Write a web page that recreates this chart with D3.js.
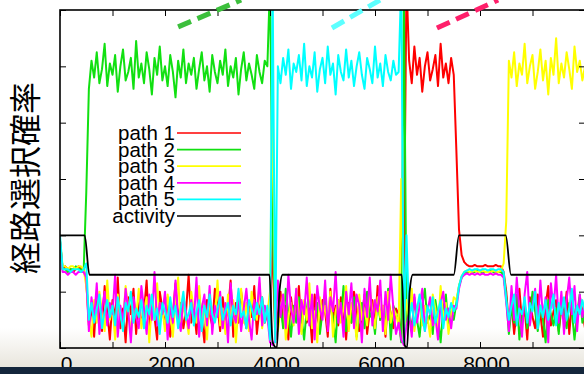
<!DOCTYPE html>
<html>
<head>
<meta charset="utf-8">
<script src="https://cdn.jsdelivr.net/npm/d3@7"></script>
<style>
  body { margin: 0; background: #fff; }
  svg { display: block; }
</style>
</head>
<body>
<svg id="chart" width="584" height="374"></svg>
<script>
// sampling step of the simulation output
var dt = 50;

// path selection probabilities, one value every dt (t = 0 .. 10000)
var path1 = [
  0.38, 0.28, 0.29, 0.28, 0.28, 0.27, 0.28, 0.29, 0.28, 0.28,
  0.24, 0.08, 0.15, 0.04, 0.19, 0.11, 0.06, 0.22, 0.13, 0.03,
  0.17, 0.10, 0.25, 0.07, 0.14, 0.02, 0.18, 0.12, 0.21, 0.05,
  0.16, 0.09, 0.13, 0.24, 0.06, 0.15, 0.11, 0.03, 0.20, 0.14,
  0.08, 0.18, 0.04, 0.12, 0.23, 0.10, 0.16, 0.07, 0.13, 0.26,
  0.09, 0.14, 0.05, 0.19, 0.11, 0.02, 0.17, 0.12, 0.08, 0.21,
  0.15, 0.06, 0.18, 0.10, 0.13, 0.24, 0.04, 0.16, 0.09, 0.20,
  0.12, 0.07, 0.15, 0.11, 0.22, 0.05, 0.14, 0.18, 0.09, 0.12,
  0.05, 0.40, 0.03, 0.12, 0.20, 0.08, 0.15, 0.03, 0.18, 0.10,
  0.13, 0.22, 0.06, 0.16, 0.09, 0.14, 0.02, 0.19, 0.11, 0.07,
  0.17, 0.13, 0.04, 0.21, 0.10, 0.15, 0.08, 0.18, 0.12, 0.03,
  0.16, 0.09, 0.20, 0.14, 0.06, 0.11, 0.19, 0.05, 0.13, 0.17,
  0.08, 0.22, 0.10, 0.15, 0.04, 0.18, 0.12, 0.07, 0.14, 0.12,
  0.03, 0.30, 1.30, 1.02, 0.94, 1.07, 0.97, 1.03, 0.91, 1.00,
  1.05, 0.95, 0.99, 1.04, 0.93, 1.08, 0.96, 1.01, 0.94, 1.03,
  0.97, 0.70, 0.42, 0.33, 0.305, 0.295, 0.29, 0.29, 0.295, 0.29,
  0.29, 0.29, 0.295, 0.29, 0.29, 0.29, 0.295, 0.29, 0.29, 0.27,
  0.20, 0.08, 0.16, 0.05, 0.13, 0.21, 0.09, 0.14, 0.03, 0.18,
  0.11, 0.07, 0.19, 0.12, 0.04, 0.15, 0.22, 0.08, 0.13, 0.17,
  0.06, 0.14, 0.10, 0.20, 0.05, 0.16, 0.12, 0.09, 0.18, 0.13,
  0.07
];
var path2 = [
  0.38, 0.28, 0.28, 0.27, 0.28, 0.28, 0.29, 0.28, 0.28, 0.27,
  0.55, 0.92, 1.02, 0.96, 1.05, 0.94, 0.99, 1.08, 0.93, 1.01,
  0.97, 1.04, 0.91, 1.00, 1.06, 0.95, 0.98, 1.03, 0.92, 1.09,
  0.96, 1.01, 0.94, 1.05, 0.99, 0.90, 1.03, 0.97, 1.07, 0.95,
  1.00, 0.93, 1.04, 0.98, 0.89, 1.02, 0.96, 1.06, 0.94, 1.01,
  0.97, 1.03, 0.92, 0.99, 1.05, 0.95, 1.00, 0.91, 1.04, 0.98,
  0.94, 1.02, 0.97, 1.06, 0.93, 1.00, 0.96, 1.03, 0.90, 0.99,
  1.05, 0.95, 1.01, 0.97, 0.92, 1.04, 0.98, 0.94, 1.02, 1.00,
  1.30, 0.45, 0.05, 0.10, 0.16, 0.07, 0.21, 0.12, 0.04, 0.15,
  0.09, 0.18, 0.11, 0.03, 0.14, 0.20, 0.07, 0.12, 0.16, 0.05,
  0.13, 0.19, 0.08, 0.15, 0.11, 0.02, 0.17, 0.10, 0.22, 0.06,
  0.14, 0.09, 0.18, 0.04, 0.12, 0.16, 0.07, 0.20, 0.11, 0.13,
  0.05, 0.17, 0.10, 0.14, 0.08, 0.21, 0.03, 0.15, 0.12, 0.10,
  0.02, 1.25, 0.08, 0.13, 0.06, 0.18, 0.10, 0.04, 0.15, 0.21,
  0.09, 0.12, 0.05, 0.17, 0.11, 0.02, 0.14, 0.19, 0.07, 0.13,
  0.10, 0.16, 0.22, 0.25, 0.265, 0.27, 0.27, 0.265, 0.27, 0.275,
  0.27, 0.265, 0.27, 0.27, 0.275, 0.27, 0.265, 0.27, 0.27, 0.26,
  0.18, 0.05, 0.14, 0.09, 0.19, 0.03, 0.12, 0.16, 0.07, 0.11,
  0.20, 0.13, 0.06, 0.15, 0.10, 0.02, 0.17, 0.12, 0.08, 0.14,
  0.05, 0.18, 0.11, 0.07, 0.16, 0.13, 0.03, 0.12, 0.19, 0.09,
  0.14
];
var path3 = [
  0.38, 0.29, 0.29, 0.28, 0.29, 0.29, 0.28, 0.29, 0.29, 0.28,
  0.22, 0.11, 0.04, 0.17, 0.09, 0.20, 0.13, 0.06, 0.24, 0.10,
  0.15, 0.03, 0.19, 0.12, 0.08, 0.22, 0.14, 0.05, 0.17, 0.11,
  0.21, 0.07, 0.13, 0.18, 0.02, 0.16, 0.10, 0.23, 0.09, 0.14,
  0.06, 0.19, 0.12, 0.04, 0.17, 0.25, 0.08, 0.15, 0.11, 0.05,
  0.20, 0.13, 0.09, 0.22, 0.07, 0.16, 0.03, 0.18, 0.12, 0.10,
  0.24, 0.08, 0.14, 0.05, 0.19, 0.11, 0.17, 0.02, 0.15, 0.21,
  0.09, 0.16, 0.06, 0.20, 0.13, 0.10, 0.23, 0.07, 0.15, 0.12,
  0.20, 0.90, 0.10, 0.06, 0.14, 0.19, 0.03, 0.11, 0.16, 0.08,
  0.21, 0.12, 0.05, 0.17, 0.10, 0.23, 0.07, 0.13, 0.02, 0.18,
  0.11, 0.15, 0.08, 0.20, 0.04, 0.13, 0.17, 0.09, 0.14, 0.22,
  0.06, 0.16, 0.12, 0.03, 0.19, 0.10, 0.14, 0.08, 0.21, 0.13,
  0.07, 0.18, 0.11, 0.15, 0.05, 0.20, 0.09, 0.14, 0.12, 0.08,
  0.60, 0.04, 0.17, 0.10, 0.21, 0.06, 0.13, 0.18, 0.08, 0.15,
  0.11, 0.04, 0.19, 0.14, 0.07, 0.22, 0.10, 0.16, 0.05, 0.12,
  0.18, 0.17, 0.22, 0.255, 0.27, 0.275, 0.27, 0.27, 0.275, 0.27,
  0.27, 0.275, 0.27, 0.27, 0.27, 0.275, 0.27, 0.27, 0.275, 0.30,
  0.45, 1.02, 0.96, 1.05, 0.93, 1.01, 0.97, 1.08, 0.94, 1.00,
  1.04, 0.92, 0.98, 1.06, 0.95, 1.02, 0.90, 1.03, 0.97, 1.10,
  0.94, 1.01, 0.96, 1.05, 0.99, 0.92, 1.07, 0.98, 1.02, 0.95,
  1.00
];
var path4 = [
  0.38, 0.27, 0.27, 0.26, 0.27, 0.27, 0.26, 0.27, 0.27, 0.27,
  0.25, 0.06, 0.18, 0.10, 0.23, 0.05, 0.14, 0.20, 0.08, 0.16,
  0.12, 0.26, 0.04, 0.15, 0.09, 0.21, 0.13, 0.02, 0.18, 0.11,
  0.07, 0.22, 0.14, 0.05, 0.19, 0.10, 0.27, 0.08, 0.16, 0.12,
  0.20, 0.03, 0.15, 0.09, 0.24, 0.11, 0.06, 0.18, 0.13, 0.07,
  0.17, 0.10, 0.25, 0.04, 0.14, 0.19, 0.08, 0.22, 0.05, 0.15,
  0.11, 0.20, 0.07, 0.16, 0.02, 0.23, 0.12, 0.09, 0.18, 0.06,
  0.14, 0.21, 0.10, 0.03, 0.17, 0.12, 0.25, 0.08, 0.15, 0.11,
  0.02, 0.01, 0.03, 0.24, 0.11, 0.19, 0.07, 0.26, 0.14, 0.09,
  0.21, 0.05, 0.17, 0.12, 0.25, 0.08, 0.19, 0.03, 0.22, 0.14,
  0.10, 0.24, 0.06, 0.18, 0.13, 0.27, 0.09, 0.16, 0.04, 0.20,
  0.12, 0.23, 0.07, 0.19, 0.15, 0.02, 0.21, 0.11, 0.25, 0.08,
  0.17, 0.13, 0.24, 0.06, 0.20, 0.10, 0.26, 0.14, 0.05, 0.09,
  0.03, 0.01, 0.08, 0.12, 0.04, 0.19, 0.09, 0.15, 0.21, 0.06,
  0.13, 0.18, 0.08, 0.11, 0.03, 0.16, 0.20, 0.10, 0.14, 0.07,
  0.15, 0.14, 0.21, 0.25, 0.26, 0.265, 0.26, 0.265, 0.26, 0.265,
  0.26, 0.265, 0.26, 0.26, 0.265, 0.26, 0.265, 0.26, 0.26, 0.25,
  0.16, 0.06, 0.22, 0.10, 0.25, 0.13, 0.04, 0.19, 0.27, 0.08,
  0.15, 0.21, 0.07, 0.24, 0.11, 0.18, 0.02, 0.23, 0.14, 0.26,
  0.09, 0.20, 0.05, 0.17, 0.25, 0.12, 0.22, 0.06, 0.19, 0.11,
  0.16
];
var path5 = [
  0.40, 0.28, 0.28, 0.28, 0.27, 0.28, 0.28, 0.28, 0.27, 0.28,
  0.30, 0.10, 0.16, 0.09, 0.14, 0.19, 0.07, 0.13, 0.17, 0.11,
  0.15, 0.08, 0.18, 0.12, 0.06, 0.16, 0.13, 0.20, 0.09, 0.14,
  0.11, 0.17, 0.07, 0.15, 0.12, 0.19, 0.10, 0.14, 0.05, 0.16,
  0.13, 0.09, 0.18, 0.11, 0.15, 0.07, 0.14, 0.20, 0.10, 0.12,
  0.16, 0.08, 0.13, 0.17, 0.06, 0.15, 0.11, 0.19, 0.12, 0.09,
  0.14, 0.18, 0.10, 0.13, 0.16, 0.08, 0.15, 0.12, 0.21, 0.11,
  0.13, 0.07, 0.17, 0.14, 0.10, 0.16, 0.12, 0.18, 0.09, 0.15,
  0.03, 1.30, 0.02, 1.00, 0.94, 1.03, 0.97, 1.06, 0.92, 1.01,
  0.98, 1.04, 0.95, 1.08, 0.93, 1.00, 0.96, 1.05, 0.91, 0.99,
  1.03, 0.94, 1.07, 0.97, 1.01, 0.90, 1.04, 0.98, 0.95, 1.06,
  0.96, 1.02, 0.93, 1.00, 1.05, 0.97, 0.92, 1.03, 0.99, 0.94,
  1.07, 0.96, 1.01, 0.93, 1.04, 0.98, 0.95, 1.02, 0.97, 0.98,
  1.30, 0.02, 0.40, 0.10, 0.16, 0.08, 0.14, 0.19, 0.11, 0.06,
  0.15, 0.12, 0.18, 0.09, 0.13, 0.17, 0.07, 0.14, 0.11, 0.16,
  0.13, 0.15, 0.22, 0.255, 0.27, 0.275, 0.28, 0.275, 0.28, 0.28,
  0.275, 0.28, 0.28, 0.275, 0.28, 0.28, 0.275, 0.28, 0.28, 0.27,
  0.17, 0.10, 0.15, 0.19, 0.08, 0.14, 0.12, 0.18, 0.09, 0.16,
  0.13, 0.20, 0.07, 0.15, 0.11, 0.17, 0.10, 0.14, 0.19, 0.08,
  0.16, 0.12, 0.18, 0.10, 0.14, 0.21, 0.09, 0.15, 0.12, 0.17,
  0.13
];

// activity (black line), breakpoints
var actTime  = [0, 470, 560, 3990, 4050, 4130, 4180, 4240, 6510, 6565, 6610, 6660, 6720, 7500, 7600, 8490, 8590, 10000];
var actValue = [0.40, 0.40, 0.26, 0.26, 0.02, 0.0, 0.20, 0.26, 0.26, 0.01, 0.0, 0.20, 0.26, 0.26, 0.40, 0.40, 0.26, 0.26];

var xTicks = [0, 1000, 2000, 3000, 4000, 5000, 6000, 7000, 8000, 9000, 10000];
var xTickLabels = ["0", "", "2000", "", "4000", "", "6000", "", "8000", "", ""];
var yTicks = [0, 0.2, 0.4, 0.6, 0.8, 1.0, 1.2];
var seriesNames = ["path 1", "path 2", "path 3", "path 4", "path 5", "activity"];

// dashed pointers coming in from above the frame (start / end in data units)
var pointerT0 = [2250, 5180, 7180];
var pointerV0 = [1.140, 1.136, 1.136];
var pointerT1 = [3450, 6095, 8345];
var pointerV1 = [1.2355, 1.2355, 1.2355];

var colors = ["#ff0000", "#11e011", "#ffff00", "#ff00ff", "#00ffff", "#000000"];
var pointerColors = ["#3cbf3c", "#5cffff", "#ff1f6a"];

var svg = d3.select("#chart");
var margin = {top: 10, right: 585, bottom: 348, left: 60};

var x = d3.scaleLinear().domain([0, 10000]).range([margin.left, margin.right]);
var y = d3.scaleLinear().domain([0, 1.2]).range([margin.bottom, margin.top]);

// slide background: faint grey fade at the bottom
var defs = svg.append("defs");
var grad = defs.append("linearGradient")
  .attr("id", "fade").attr("x1", 0).attr("y1", 0).attr("x2", 0).attr("y2", 1);
grad.append("stop").attr("offset", "0%").attr("stop-color", "#ffffff");
grad.append("stop").attr("offset", "100%").attr("stop-color", "#e8e5dc");
svg.append("rect").attr("x", 0).attr("y", 328).attr("width", 584).attr("height", 40)
  .attr("fill", "url(#fade)");

defs.append("clipPath").attr("id", "plotclip")
  .append("rect")
  .attr("x", margin.left).attr("y", margin.top)
  .attr("width", margin.right - margin.left).attr("height", margin.bottom - margin.top);

// data lines
var series = [path1, path2, path3, path4, path5];
var line = d3.line()
  .x(function(d, i) { return x(i * dt); })
  .y(function(d) { return y(d); });

var plot = svg.append("g").attr("clip-path", "url(#plotclip)");
series.forEach(function(s, k) {
  plot.append("path")
    .datum(s)
    .attr("d", line)
    .attr("fill", "none")
    .attr("stroke", colors[k])
    .attr("stroke-width", 2)
    .attr("stroke-linejoin", "round");
});

var actLine = d3.line()
  .curve(d3.curveMonotoneX)
  .x(function(d) { return x(d[0]); })
  .y(function(d) { return y(d[1]); });
plot.append("path")
  .datum(d3.zip(actTime, actValue))
  .attr("d", actLine)
  .attr("fill", "none")
  .attr("stroke", colors[5])
  .attr("stroke-width", 1.8);

// frame and ticks (gnuplot style, ticks inward on all four sides)
svg.append("rect")
  .attr("x", margin.left).attr("y", margin.top)
  .attr("width", margin.right - margin.left).attr("height", margin.bottom - margin.top)
  .attr("fill", "none").attr("stroke", "#000").attr("stroke-width", 1.6);

var xAxis = svg.append("g")
  .attr("transform", "translate(0," + margin.bottom + ")")
  .call(d3.axisBottom(x).tickValues(xTicks).tickSize(-6).tickSizeOuter(0)
    .tickFormat(function(d, i) { return xTickLabels[i]; }));
xAxis.select(".domain").remove();
xAxis.attr("font-family", "'Liberation Sans', Arial, sans-serif").attr("font-size", 21);
xAxis.selectAll("text").attr("y", 23).attr("dy", null).attr("dx", 6).attr("fill", "#000");

var xTop = svg.append("g")
  .attr("transform", "translate(0," + margin.top + ")")
  .call(d3.axisTop(x).tickValues(xTicks).tickSize(-6).tickSizeOuter(0).tickFormat(""));
xTop.select(".domain").remove();

var yLeft = svg.append("g")
  .attr("transform", "translate(" + margin.left + ",0)")
  .call(d3.axisLeft(y).tickValues(yTicks).tickSize(-6).tickSizeOuter(0).tickFormat(""));
yLeft.select(".domain").remove();

var yRight = svg.append("g")
  .attr("transform", "translate(" + margin.right + ",0)")
  .call(d3.axisRight(y).tickValues(yTicks).tickSize(-6).tickSizeOuter(0).tickFormat(""));
yRight.select(".domain").remove();

// y label
svg.append("text")
  .attr("transform", "translate(37,178) rotate(-90)")
  .attr("text-anchor", "middle")
  .attr("font-family", "'Noto Sans CJK JP', sans-serif")
  .attr("font-size", 32)
  .attr("fill", "#000")
  .text("経路選択確率");

// legend (gnuplot packs the rows tightly, so the glyphs touch)
var legend = svg.append("g")
  .attr("font-family", "'Liberation Sans', Arial, sans-serif")
  .attr("font-size", 20.5);
seriesNames.forEach(function(name, k) {
  var ly = 133 + k * 16.6;
  legend.append("text")
    .attr("x", 175).attr("y", ly + 7)
    .attr("text-anchor", "end")
    .attr("fill", "#000")
    .text(name);
  legend.append("line")
    .attr("x1", 177).attr("x2", 241)
    .attr("y1", ly).attr("y2", ly)
    .attr("stroke", colors[k]).attr("stroke-width", 1.7);
});

// dashed pointers
pointerT0.forEach(function(t, k) {
  svg.append("line")
    .attr("x1", x(t)).attr("y1", y(pointerV0[k]))
    .attr("x2", x(pointerT1[k])).attr("y2", y(pointerV1[k]))
    .attr("stroke", pointerColors[k])
    .attr("stroke-width", 5)
    .attr("stroke-dasharray", "14,7");
});

// dark slide bar along the bottom edge
svg.append("rect").attr("x", 0).attr("y", 367).attr("width", 584).attr("height", 7)
  .attr("fill", "#14263c");
</script>
</body>
</html>
